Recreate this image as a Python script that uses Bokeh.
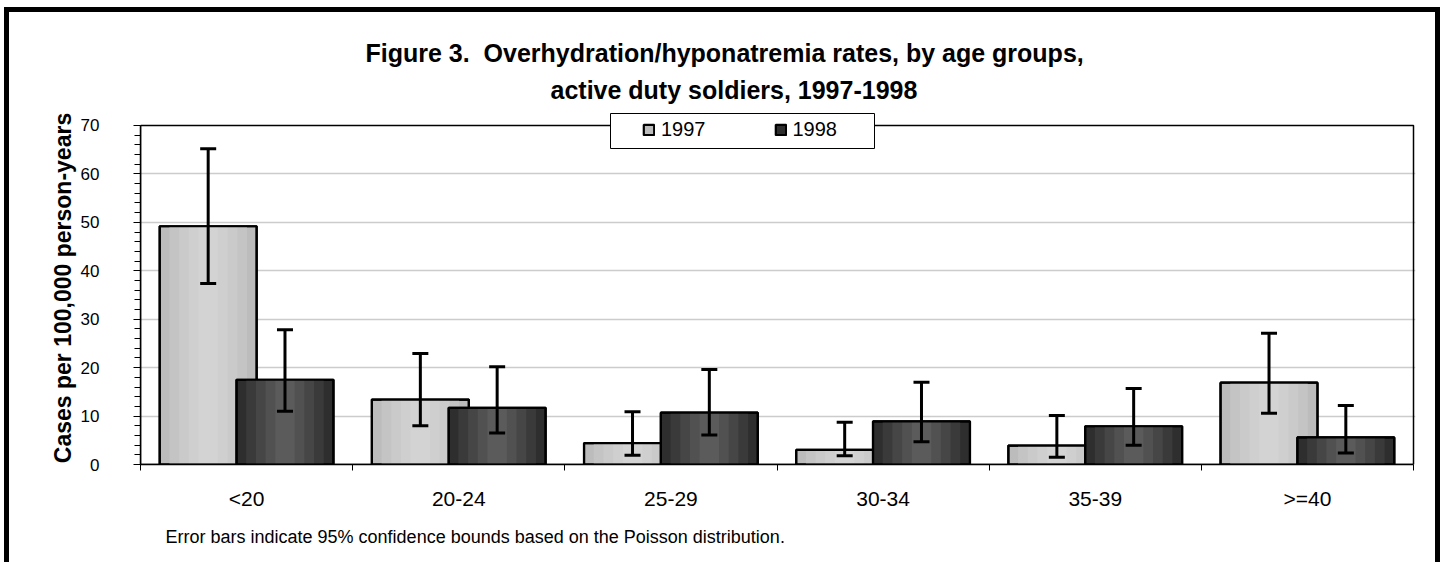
import numpy as np
from bokeh.plotting import figure
from bokeh.models import (Range1d, LinearAxis, FixedTicker, Whisker, TeeHead, ColumnDataSource,
                          Legend, LegendItem, BoxAnnotation, Grid, Title)
from bokeh.embed import file_html
from bokeh.resources import INLINE

# ---------------- data ----------------
categories = ["<20", "20-24", "25-29", "30-34", "35-39", ">=40"]
series = ["1997", "1998"]
rate_1997 = [49.2, 13.4, 4.4, 3.0, 3.9, 16.9]
upper_1997 = [65.2, 22.9, 10.9, 8.7, 10.1, 27.1]
lower_1997 = [37.4, 8.0, 1.9, 1.8, 1.5, 10.6]
rate_1998 = [17.5, 11.7, 10.7, 8.9, 7.9, 5.6]
upper_1998 = [27.8, 20.2, 19.6, 17.0, 15.7, 12.2]
lower_1998 = [11.0, 6.5, 6.1, 4.7, 4.0, 2.4]
y_ticks = [0, 10, 20, 30, 40, 50, 60, 70]

title_line1 = "Figure 3.\u00a0 Overhydration/hyponatremia rates, by age groups,"
title_line2 = "active duty soldiers, 1997-1998"
y_label = "Cases per 100,000 person-years"
footnote = "Error bars indicate 95% confidence bounds based on the Poisson distribution."

FONT = "Liberation Sans"
W, H = 1442, 562
Y_MAX = y_ticks[-1]
N = len(categories)

centers = np.arange(N) + 0.5
OFF = 0.181
BAR_W = 0.457

src = ColumnDataSource(dict(
    x97=centers - OFF, x98=centers + OFF,
    r97=rate_1997, r98=rate_1998,
    u97=upper_1997, l97=lower_1997,
    u98=upper_1998, l98=lower_1998,
))

p = figure(width=W, height=H, output_backend="svg", toolbar_location=None, title=None,
           x_range=Range1d(0, N + 0.0094), y_range=Range1d(0, Y_MAX + 2.89),
           x_axis_type=None, y_axis_type=None,
           min_border_left=140, min_border_right=27, min_border_top=111, min_border_bottom=98)
p.outline_line_color = None
p.background_fill_color = "white"
p.border_fill_alpha = 0
p.styles = {"box-shadow": ("inset 4px 0 0 0 white, inset 0 7px 0 0 white, inset -2px 0 0 0 white, "
                           "inset 9px 0 0 0 black, inset 0 12px 0 0 black, inset -7px 0 0 0 black")}

# grid
p.add_layout(Grid(dimension=1, ticker=FixedTicker(ticks=y_ticks[1:-1]),
                  grid_line_color="#cccccc", grid_line_width=1.3))

# plot-area border (top & right)
p.add_layout(BoxAnnotation(left=0, right=N, bottom=0, top=Y_MAX, fill_alpha=0,
                           line_color="black", line_width=1.5, line_alpha=1.0, level="underlay"))

# bars with simulated gradient
shades97 = [(1.0, "#bcbcbc"), (0.8, "#c4c4c4"), (0.6, "#cacaca"), (0.4, "#cfcfcf"), (0.2, "#d3d3d3")]
shades98 = [(1.0, "#2e2e2e"), (0.8, "#3a3a3a"), (0.6, "#464646"), (0.4, "#515151"), (0.2, "#5b5b5b")]

def draw_series(xcol, topcol, shades):
    base = p.vbar(x=xcol, top=topcol, width=BAR_W, source=src, fill_color=shades[0][1],
                  line_color="black", line_width=2.2)
    for frac, col in shades[1:]:
        p.vbar(x=xcol, top=topcol, width=BAR_W * frac, source=src, fill_color=col, line_color=None)
    p.vbar(x=xcol, top=topcol, width=BAR_W, source=src, fill_color=None,
           line_color="black", line_width=2.2)
    return base

r97 = draw_series("x97", "r97", shades97)
r98 = draw_series("x98", "r98", shades98)

# error bars
for xc, uc, lc in (("x97", "u97", "l97"), ("x98", "u98", "l98")):
    p.add_layout(Whisker(base=xc, upper=uc, lower=lc, source=src, dimension="height",
                         line_color="black", line_width=3, level="annotation",
                         upper_head=TeeHead(size=16, line_width=3, line_color="black"),
                         lower_head=TeeHead(size=16, line_width=3, line_color="black")))

# y axis
yaxis = LinearAxis(ticker=FixedTicker(ticks=y_ticks, minor_ticks=list(range(0, Y_MAX + 1, 2))),
                   bounds=(0, Y_MAX),
                   axis_label=y_label,
                   axis_label_text_font=FONT, axis_label_text_font_size="23px",
                   axis_label_text_font_style="bold", axis_label_text_color="black",
                   axis_label_standoff=2,
                   major_label_text_font=FONT, major_label_text_font_size="17px",
                   major_label_text_color="black", major_label_standoff=34,
                   major_tick_out=7, major_tick_in=0, minor_tick_out=6, minor_tick_in=0,
                   axis_line_width=1.5, major_tick_line_color="black", minor_tick_line_color="black")
p.add_layout(yaxis, "left")

# x axis: labels at category centres, tick marks at boundaries
xaxis = LinearAxis(ticker=FixedTicker(ticks=list(centers), minor_ticks=list(range(0, N + 1))),
                   bounds=(0, N),
                   major_label_overrides={float(c): lab for c, lab in zip(centers, categories)},
                   major_label_text_font=FONT, major_label_text_font_size="21px",
                   major_label_text_color="black", major_label_standoff=16,
                   major_tick_line_color=None, major_tick_out=0, major_tick_in=0,
                   minor_tick_out=6, minor_tick_in=0, minor_tick_line_color="black",
                   axis_line_width=1.5)
p.add_layout(xaxis, "below")

# footnote (below the x axis)
p.add_layout(Title(text=footnote, align="left", offset=25, vertical_align="top", standoff=28,
                   text_font=FONT, text_font_size="18px", text_font_style="normal",
                   text_color="black"), "below")

# two-line title (second line added first: it sits closest to the frame)
p.add_layout(Title(text=title_line2, align="left", offset=410, standoff=15,
                   text_font=FONT, text_font_size="25px", text_font_style="bold",
                   text_color="black"), "above")
p.add_layout(Title(text=title_line1, align="left", offset=225, standoff=0,
                   text_font=FONT, text_font_size="25px", text_font_style="bold",
                   text_color="black"), "above")

# legend box + legend
p.add_layout(BoxAnnotation(left=610, right=874, top=113, bottom=148,
                           left_units="canvas", right_units="canvas",
                           top_units="canvas", bottom_units="canvas",
                           fill_color="white", fill_alpha=1.0,
                           line_color="black", line_width=1, line_alpha=1.0))
legend = Legend(items=[LegendItem(label=series[0], renderers=[r97]),
                       LegendItem(label=series[1], renderers=[r98])],
                orientation="horizontal", location=(502, 323), padding=10, spacing=68,
                label_standoff=6, glyph_width=13, glyph_height=13, label_height=20,
                label_text_font=FONT, label_text_font_size="20px", label_text_color="black",
                background_fill_alpha=0, border_line_color=None, margin=0)
p.add_layout(legend, "center")

open("out.html", "w").write(file_html(p, INLINE))
